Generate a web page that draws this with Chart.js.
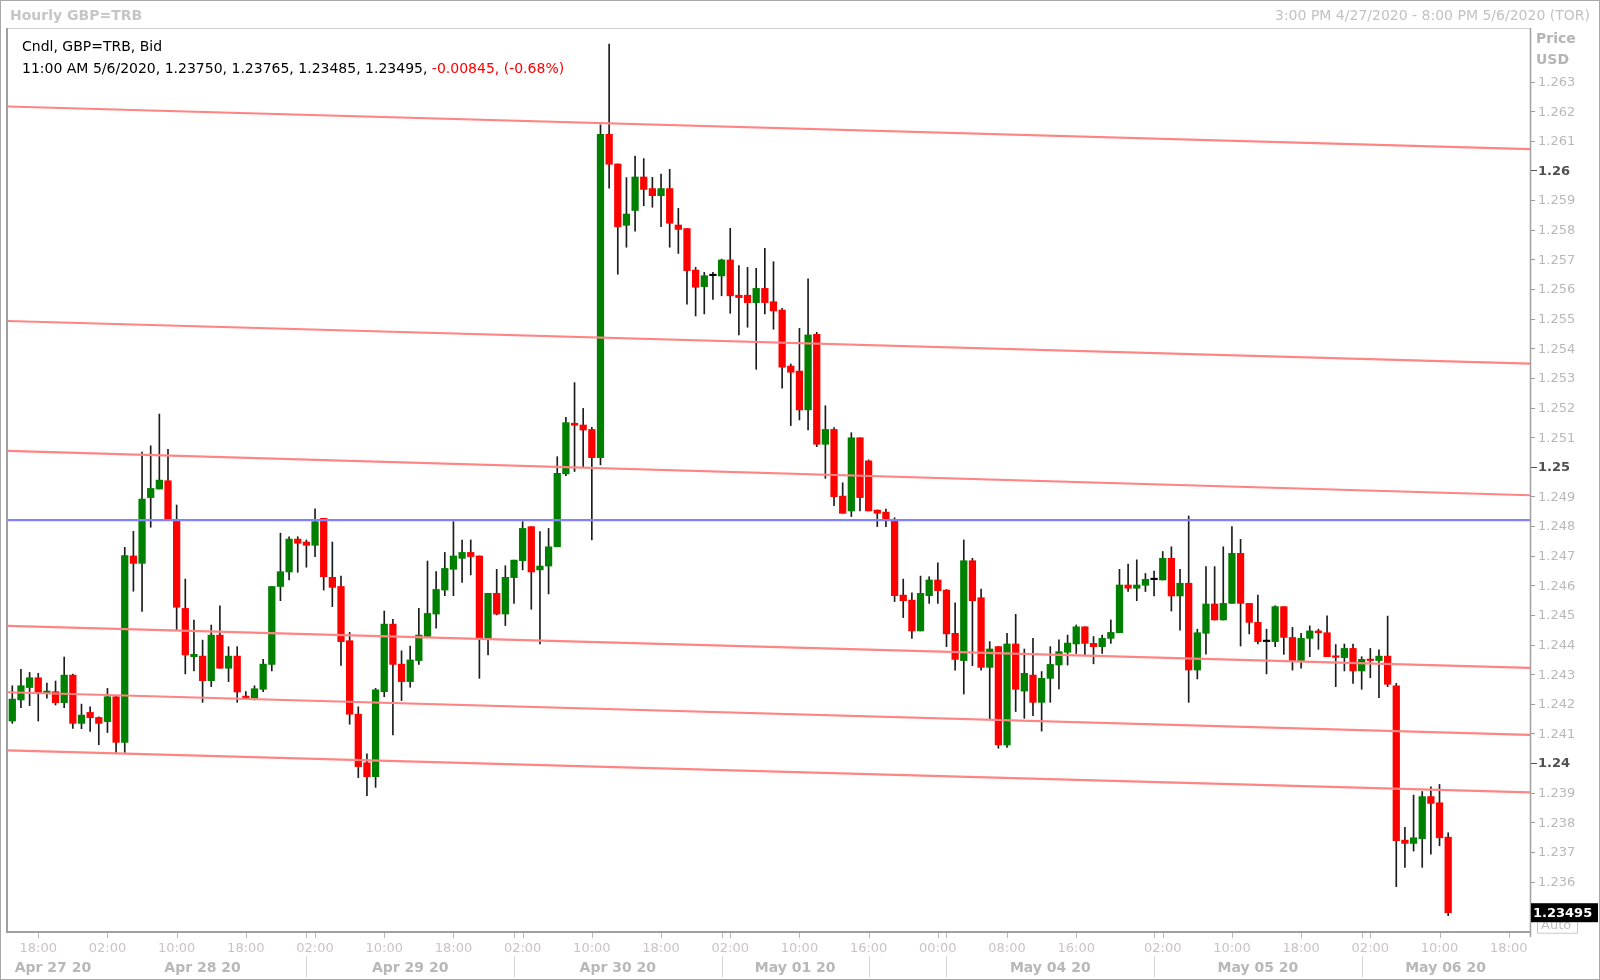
<!DOCTYPE html>
<html><head><meta charset="utf-8">
<script src="https://cdn.jsdelivr.net/npm/chart.js@4.4.1/dist/chart.umd.min.js"></script>
<style>html,body{margin:0;padding:0;background:#fff;}#wrap{width:1600px;height:980px;position:relative;}canvas{display:block;}</style>
</head><body><div id="wrap"><canvas id="c" width="1600" height="980"></canvas></div>
<script>
// ---- candle data (hourly, index 0 = 3:00 PM 4/27/2020) ----
const openP = [
1.24142,1.24213,1.24255,1.24288,1.24238,1.24241,1.24204,1.24297,1.24134,1.24171,
1.24154,1.24140,1.24224,1.24070,1.24699,1.24674,1.24896,1.24925,1.24953,1.24818,
1.24522,1.24359,1.24361,1.24278,1.24432,1.24320,1.24361,1.24226,1.24219,1.24249,
1.24333,1.24596,1.24645,1.24756,1.24746,1.24735,1.24826,1.24627,1.24596,1.24413,
1.24165,1.24001,1.23954,1.24241,1.24469,1.24334,1.24275,1.24346,1.24427,1.24503,
1.24584,1.24654,1.24691,1.24711,1.24699,1.24421,1.24573,1.24503,1.24626,1.24683,
1.24798,1.24652,1.24665,1.24730,1.24976,1.25147,1.25141,1.25126,1.25031,1.26122,
1.26022,1.25815,1.25865,1.25978,1.25939,1.25915,1.25939,1.25816,1.25804,1.25664,
1.25608,1.25645,1.25644,1.25698,1.25579,1.25579,1.25554,1.25602,1.25557,1.25529,
1.25340,1.25323,1.25192,1.25447,1.25076,1.25126,1.24901,1.24851,1.25098,1.25020,
1.24854,1.24847,1.24818,1.24567,1.24550,1.24446,1.24565,1.24618,1.24584,1.24438,
1.24346,1.24683,1.24558,1.24323,1.24393,1.24061,1.24402,1.24243,1.24297,1.24205,
1.24286,1.24331,1.24374,1.24402,1.24460,1.24404,1.24393,1.24421,1.24440,1.24601,
1.24590,1.24600,1.24619,1.24618,1.24691,1.24564,1.24607,1.24314,1.24438,1.24537,
1.24483,1.24539,1.24708,1.24539,1.24475,1.24410,1.24410,1.24528,1.24424,1.24345,
1.24421,1.24446,1.24440,1.24361,1.24356,1.24387,1.24311,1.24350,1.24346,1.24361,
1.24261,1.23740,1.23729,1.23745,1.23887,1.23866,1.23750];
const highP = [
1.24261,1.24316,1.24306,1.24303,1.24270,1.24277,1.24358,1.24300,1.24199,1.24190,
1.24156,1.24252,1.24226,1.24728,1.24782,1.25050,1.25071,1.25178,1.25059,1.24871,
1.24621,1.24483,1.24415,1.24466,1.24531,1.24393,1.24393,1.24241,1.24261,1.24350,
1.24596,1.24776,1.24764,1.24764,1.24753,1.24858,1.24826,1.24746,1.24631,1.24441,
1.24190,1.24031,1.24252,1.24513,1.24485,1.24379,1.24395,1.24522,1.24682,1.24646,
1.24711,1.24815,1.24753,1.24753,1.24699,1.24573,1.24654,1.24666,1.24685,1.24815,
1.24798,1.24781,1.24792,1.25034,1.25167,1.25284,1.25197,1.25133,1.26154,1.26427,
1.26022,1.25976,1.26049,1.26040,1.25977,1.25988,1.26004,1.25872,1.25804,1.25673,
1.25656,1.25656,1.25701,1.25805,1.25679,1.25673,1.25670,1.25737,1.25692,1.25535,
1.25347,1.25467,1.25634,1.25454,1.25206,1.25132,1.24946,1.25115,1.25098,1.25023,
1.24854,1.24857,1.24828,1.24621,1.24575,1.24631,1.24629,1.24676,1.24586,1.24541,
1.24753,1.24691,1.24587,1.24410,1.24393,1.24438,1.24502,1.24385,1.24421,1.24309,
1.24393,1.24416,1.24432,1.24466,1.24460,1.24427,1.24432,1.24483,1.24654,1.24672,
1.24686,1.24640,1.24648,1.24714,1.24730,1.24654,1.24834,1.24452,1.24663,1.24663,
1.24730,1.24798,1.24755,1.24539,1.24567,1.24452,1.24531,1.24528,1.24458,1.24438,
1.24463,1.24452,1.24497,1.24400,1.24402,1.24402,1.24359,1.24387,1.24382,1.24496,
1.24269,1.23783,1.23892,1.23904,1.23920,1.23928,1.23765];
const lowP = [
1.24134,1.24187,1.24194,1.24142,1.24219,1.24196,1.24187,1.24117,1.24116,1.24107,
1.24062,1.24103,1.24036,1.24036,1.24580,1.24512,1.24796,1.24925,1.24823,1.24449,
1.24301,1.24311,1.24205,1.24258,1.24320,1.24275,1.24205,1.24219,1.24213,1.24241,
1.24311,1.24548,1.24618,1.24644,1.24661,1.24697,1.24584,1.24528,1.24330,1.24131,
1.23951,1.23890,1.23918,1.24224,1.24095,1.24211,1.24256,1.24333,1.24427,1.24455,
1.24565,1.24565,1.24610,1.24635,1.24286,1.24365,1.24500,1.24464,1.24539,1.24652,
1.24519,1.24402,1.24571,1.24730,1.24970,1.24984,1.25000,1.24753,1.25006,1.25940,
1.25650,1.25741,1.25795,1.25881,1.25876,1.25810,1.25741,1.25720,1.25549,1.25509,
1.25516,1.25565,1.25577,1.25518,1.25445,1.25471,1.25329,1.25516,1.25464,1.25265,
1.25139,1.25158,1.25124,1.25068,1.24961,1.24869,1.24843,1.24832,1.24851,1.24851,
1.24798,1.24798,1.24545,1.24491,1.24421,1.24446,1.24539,1.24539,1.24393,1.24314,
1.24233,1.24329,1.24314,1.24148,1.24050,1.24053,1.24174,1.24151,1.24160,1.24108,
1.24205,1.24250,1.24331,1.24370,1.24365,1.24335,1.24370,1.24404,1.24440,1.24579,
1.24548,1.24579,1.24564,1.24618,1.24513,1.24449,1.24205,1.24284,1.24368,1.24483,
1.24483,1.24539,1.24395,1.24436,1.24402,1.24301,1.24393,1.24367,1.24314,1.24320,
1.24359,1.24384,1.24359,1.24258,1.24311,1.24269,1.24249,1.24288,1.24221,1.24258,
1.23583,1.23648,1.23703,1.23648,1.23693,1.23721,1.23485];
const closeP = [
1.24216,1.24261,1.24288,1.24238,1.24243,1.24204,1.24297,1.24134,1.24162,1.24153,
1.24134,1.24224,1.24070,1.24700,1.24674,1.24891,1.24927,1.24955,1.24823,1.24526,
1.24365,1.24367,1.24278,1.24432,1.24320,1.24361,1.24240,1.24221,1.24251,1.24334,
1.24596,1.24646,1.24756,1.24742,1.24735,1.24815,1.24629,1.24593,1.24410,1.24165,
1.23988,1.23954,1.24247,1.24469,1.24333,1.24275,1.24348,1.24432,1.24505,1.24586,
1.24657,1.24699,1.24711,1.24697,1.24421,1.24573,1.24503,1.24627,1.24685,1.24792,
1.24645,1.24665,1.24730,1.24978,1.25149,1.25140,1.25124,1.25031,1.26122,1.26021,
1.25810,1.25853,1.25978,1.25936,1.25915,1.25939,1.25822,1.25801,1.25662,1.25606,
1.25645,1.25645,1.25698,1.25577,1.25571,1.25554,1.25602,1.25554,1.25526,1.25336,
1.25319,1.25192,1.25445,1.25076,1.25126,1.24899,1.24843,1.25098,1.24896,1.24851,
1.24843,1.24825,1.24565,1.24548,1.24446,1.24573,1.24618,1.24582,1.24436,1.24350,
1.24683,1.24548,1.24323,1.24385,1.24061,1.24402,1.24249,1.24303,1.24205,1.24286,
1.24333,1.24376,1.24405,1.24460,1.24404,1.24393,1.24421,1.24441,1.24601,1.24590,
1.24601,1.24620,1.24619,1.24691,1.24564,1.24607,1.24314,1.24440,1.24537,1.24483,
1.24539,1.24708,1.24539,1.24475,1.24410,1.24410,1.24528,1.24424,1.24345,1.24421,
1.24446,1.24440,1.24359,1.24357,1.24387,1.24311,1.24350,1.24346,1.24361,1.24266,
1.23738,1.23729,1.23748,1.23887,1.23864,1.23748,1.23495];

// ---- drawn trend channel lines and horizontal level ----
const channelLeft  = [1.26216, 1.25492, 1.25054, 1.24463, 1.24239, 1.24043];
const channelRight = [1.26072, 1.25348, 1.24904, 1.24321, 1.24095, 1.23901];
const levelLine = 1.24820;

// ---- axis ticks & texts ----
const priceTickLabels = ['1.263','1.262','1.261','1.26','1.259','1.258','1.257','1.256','1.255','1.254','1.253','1.252','1.251','1.25','1.249','1.248','1.247','1.246','1.245','1.244','1.243','1.242','1.241','1.24','1.239','1.238','1.237','1.236'];
const majorPriceLabels = ['1.26','1.25','1.24'];
const timeTickSlots  = [3,11,19,27,35,43,51,59,67,75,83,91,99,107,115,123,133,141,149,157,165,173];
const timeTickLabels = ['18:00','02:00','10:00','18:00','02:00','10:00','18:00','02:00','10:00','18:00','02:00','10:00','16:00','00:00','08:00','16:00','02:00','10:00','18:00','02:00','10:00','18:00'];
const daySeparatorSlots = [34,58,82,99,108,132,156];
const dayLabels = ['Apr 27 20','Apr 28 20','Apr 29 20','Apr 30 20','May 01 20','May 04 20','May 05 20','May 06 20'];
const dayLabelSlots = [4.7,22,46,70,90.5,120,144,165.7];
const chartTitle = 'Hourly GBP=TRB';
const rangeText = '3:00 PM 4/27/2020 - 8:00 PM 5/6/2020 (TOR)';
const legendLine1 = 'Cndl, GBP=TRB, Bid';
const legendValues = '11:00 AM 5/6/2020, 1.23750, 1.23765, 1.23485, 1.23495, ';
const legendChange = '-0.00845, (-0.68%)';
const lastPriceLabel = '1.23495';
const lastPrice = 1.23495;

const xMin = -0.497, xMax = 175.46;
const yMin = 1.234333, yMax = 1.264775;

const bodyColors = openP.map((o,i)=> closeP[i] > o ? '#008000' : (closeP[i] < o ? '#ff0000' : '#000000'));

const datasets = [];
channelLeft.forEach((l,k)=>{
  datasets.push({type:'line', data:[{x:xMin,y:l},{x:xMax,y:channelRight[k]}], borderColor:'#ff8484', borderWidth:2.2, pointRadius:0, order:0});
});
datasets.push({type:'line', data:[{x:xMin,y:levelLine},{x:xMax,y:levelLine}], borderColor:'#8282ff', borderWidth:2.2, pointRadius:0, order:0});
datasets.push({type:'bar', data:openP.map((o,i)=>({x:i,y:[o,closeP[i]]})), backgroundColor:bodyColors, borderWidth:0, barThickness:6.6, grouped:false, minBarLength:1.5, order:1});
datasets.push({type:'bar', data:lowP.map((l,i)=>({x:i,y:[l,highP[i]]})), backgroundColor:'#1c1c1c', borderWidth:0, barThickness:1, grouped:false, order:2});

const deco = {
  id:'deco',
  beforeDraw(chart){
    const ctx = chart.ctx;
    ctx.save(); ctx.fillStyle='#fff'; ctx.fillRect(0,0,chart.width,chart.height); ctx.restore();
  },
  afterDraw(chart){
    const ctx = chart.ctx, xs = chart.scales.x, ys = chart.scales.y, a = chart.chartArea;
    ctx.save();
    // outer frame
    ctx.strokeStyle='#a8a8a8'; ctx.lineWidth=1;
    ctx.strokeRect(0.5,0.5,chart.width-1,chart.height-1);
    // plot frame
    ctx.strokeStyle='#d0d0d0'; ctx.beginPath(); ctx.moveTo(a.left, a.top-0.5); ctx.lineTo(a.right, a.top-0.5); ctx.stroke();
    ctx.strokeStyle='#a0a0a0'; ctx.lineWidth=2;
    ctx.beginPath(); ctx.moveTo(a.left-1, a.top-1); ctx.lineTo(a.left-1, a.bottom+1); ctx.lineTo(a.right+1, a.bottom+1); ctx.stroke();
    ctx.lineWidth=1.5; ctx.beginPath(); ctx.moveTo(a.right+0.5, a.top-1); ctx.lineTo(a.right+0.5, a.bottom+6); ctx.stroke();
    // title and range
    ctx.textBaseline='middle';
    ctx.font='bold 14px "DejaVu Sans"'; ctx.fillStyle='#c6c6c6'; ctx.textAlign='left';
    ctx.fillText(chartTitle, 10, 16);
    ctx.font='14px "DejaVu Sans"'; ctx.textAlign='right'; ctx.fillStyle='#c2c2c2';
    ctx.fillText(rangeText, 1590, 16);
    // legend
    ctx.textAlign='left'; ctx.font='14px "DejaVu Sans"'; ctx.fillStyle='#000';
    ctx.fillText(legendLine1, 22, 47);
    ctx.fillText(legendValues, 22, 69);
    const w = ctx.measureText(legendValues).width;
    ctx.fillStyle='#ff0000'; ctx.fillText(legendChange, 22+w, 69);
    // right price axis
    ctx.font='bold 14px "DejaVu Sans"'; ctx.fillStyle='#b4b4b4';
    ctx.fillText('Price', 1536, 39); ctx.fillText('USD', 1536, 60);
    priceTickLabels.forEach(t=>{
      const y = ys.getPixelForValue(parseFloat(t));
      const major = majorPriceLabels.includes(t);
      ctx.strokeStyle = major ? '#555' : '#a0a0a0'; ctx.lineWidth=1;
      ctx.beginPath(); ctx.moveTo(a.right+1, Math.round(y)+0.5); ctx.lineTo(a.right+(major?7:5), Math.round(y)+0.5); ctx.stroke();
      ctx.font = major ? 'bold 13px "DejaVu Sans"' : '13px "DejaVu Sans"';
      ctx.fillStyle = major ? '#505050' : '#b9b9b9';
      ctx.fillText(t, 1538, y+1);
    });
    // Auto button
    const ly = ys.getPixelForValue(lastPrice);
    ctx.strokeStyle='#c8c8c8'; ctx.lineWidth=1; ctx.strokeRect(1537.5, ly+2.5, 40, 18);
    ctx.font='13px "DejaVu Sans"'; ctx.fillStyle='#c0c0c0'; ctx.fillText('Auto', 1541, ly+13);
    // last price label
    ctx.fillStyle='#000'; ctx.fillRect(a.right+1, ly-9.5, 67, 19);
    ctx.font='bold 13px "DejaVu Sans"'; ctx.fillStyle='#fff'; ctx.fillText(lastPriceLabel, a.right+3, ly+0.5);
    // bottom time axis
    ctx.strokeStyle='#b8b8b8'; ctx.lineWidth=1;
    timeTickSlots.concat(daySeparatorSlots).forEach(s=>{
      const x = Math.round(xs.getPixelForValue(s))+0.5;
      ctx.beginPath(); ctx.moveTo(x, a.bottom+2); ctx.lineTo(x, a.bottom+7); ctx.stroke();
    });
    ctx.font='13px "DejaVu Sans"'; ctx.fillStyle='#cbc3c3'; ctx.textAlign='center';
    timeTickSlots.forEach((s,k)=>{ ctx.fillText(timeTickLabels[k], xs.getPixelForValue(s), 949); });
    ctx.strokeStyle='#d6d6d6';
    daySeparatorSlots.forEach(s=>{
      const x = Math.round(xs.getPixelForValue(s))+0.5;
      ctx.beginPath(); ctx.moveTo(x, 956); ctx.lineTo(x, 977); ctx.stroke();
    });
    ctx.font='bold 14px "DejaVu Sans"'; ctx.fillStyle='#b8b8b8';
    dayLabels.forEach((d,k)=>{ ctx.fillText(d, xs.getPixelForValue(dayLabelSlots[k]), 968); });
    ctx.restore();
  }
};

new Chart(document.getElementById('c'), {
  data:{datasets},
  options:{
    responsive:false, animation:false, devicePixelRatio:1,
    layout:{padding:{left:8, top:29, right:70, bottom:49}},
    plugins:{legend:{display:false}, tooltip:{enabled:false}, title:{display:false}},
    scales:{
      x:{type:'linear', min:xMin, max:xMax, display:false, offset:false, grid:{display:false}},
      y:{type:'linear', min:yMin, max:yMax, display:false, grid:{display:false}}
    }
  },
  plugins:[deco]
});
</script></body></html>
